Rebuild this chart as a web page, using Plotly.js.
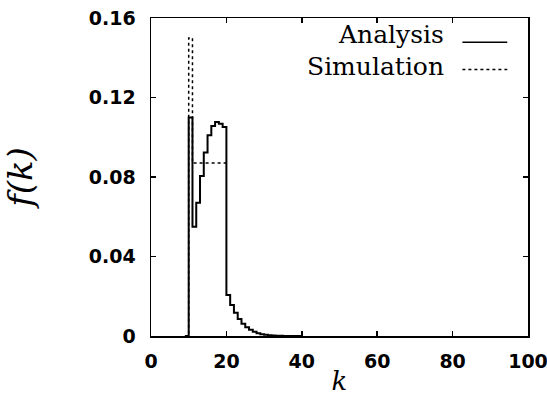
<!DOCTYPE html>
<html>
<head>
<meta charset="utf-8">
<script src="https://cdn.plot.ly/plotly-3.0.1.min.js"></script>
<style>
  html, body { margin: 0; padding: 0; background: #fff; }
  #chart { width: 547px; height: 400px; }
</style>
</head>
<body>
<div id="chart"></div>
<script>
// Degree k (step start positions)
const kAnalysis = [9, 10, 11, 12, 13, 14, 15, 16, 17, 18, 19, 20, 21, 22, 23, 24, 25, 26, 27, 28, 29, 30, 31, 32, 33, 34, 35, 36, 40];
// Analysis f(k)
const fAnalysis = [0, 0.110, 0.055, 0.067, 0.0805, 0.0923, 0.101, 0.1057, 0.1077, 0.1068, 0.1052,
                   0.0206, 0.0156, 0.0117, 0.0086, 0.0062, 0.0044, 0.0031, 0.0021, 0.0014, 0.0009,
                   0.0006, 0.0004, 0.00025, 0.00015, 0.0001, 0.00005, 0, 0];

const kSimulation = [9, 10, 11, 12, 13, 14, 15, 16, 17, 18, 19, 20];
// Simulation f(k)
const fSimulation = [0, 0.150, 0.087, 0.087, 0.087, 0.087, 0.087, 0.087, 0.087, 0.087, 0.087, 0.087];

const seriesNames = ["Analysis", "Simulation"];
const xTicks = [0, 20, 40, 60, 80, 100];
const yTicks = [0, 0.04, 0.08, 0.12, 0.16];
const yTickText = ["0", "0.04", "0.08", "0.12", "0.16"];

const traces = [
  {
    x: kSimulation, y: fSimulation, name: seriesNames[1],
    type: "scatter", mode: "lines",
    line: { shape: "hv", color: "#000", width: 1.5, dash: "dot" },
    showlegend: false
  },
  {
    x: kAnalysis, y: fAnalysis, name: seriesNames[0],
    type: "scatter", mode: "lines",
    line: { shape: "hv", color: "#000", width: 2 },
    showlegend: false
  }
];

const tickFont = { family: "DejaVu Sans", size: 19, color: "#000", weight: "bold" };

// legend sample geometry (paper coordinates)
const legX0 = 0.826, legX1 = 0.945, legTextX = 0.782;
const legRowsY = [0.924, 0.838];
const legTextY = [0.947, 0.848];

const layout = {
  width: 547, height: 400,
  margin: { l: 151, r: 19, t: 18, b: 64 },
  paper_bgcolor: "#fff", plot_bgcolor: "#fff",
  showlegend: false,
  xaxis: {
    range: [0, 100], tickvals: xTicks, ticktext: xTicks.map(String),
    ticks: "inside", ticklen: 5, tickwidth: 1.5, tickcolor: "#000",
    showline: true, linecolor: "#000", linewidth: 1.5, mirror: "allticks",
    showgrid: false, zeroline: false, ticklabeloverflow: "allow",
    tickfont: tickFont, ticklabelstandoff: 8,
    title: { text: "k", font: { family: "DejaVu Serif", size: 26, color: "#000", style: "italic" }, standoff: 0 }
  },
  yaxis: {
    range: [0, 0.16], tickvals: yTicks, ticktext: yTickText,
    ticks: "inside", ticklen: 5, tickwidth: 1.5, tickcolor: "#000",
    showline: true, linecolor: "#000", linewidth: 1.5, mirror: "allticks",
    showgrid: false, zeroline: false, ticklabeloverflow: "allow",
    tickfont: tickFont, ticklabelstandoff: 10,
    title: { text: "f(k)", font: { family: "DejaVu Serif", size: 34, color: "#000", style: "italic" }, standoff: 46 }
  },
  annotations: seriesNames.map((n, i) => ({
    xref: "paper", yref: "paper", x: legTextX, y: legTextY[i],
    xanchor: "right", yanchor: "middle", showarrow: false,
    text: n, font: { family: "DejaVu Serif", size: 25, color: "#000" }
  })),
  shapes: [
    { type: "line", xref: "paper", yref: "paper", x0: legX0, x1: legX1, y0: legRowsY[0], y1: legRowsY[0],
      line: { color: "#000", width: 1.5 } },
    { type: "line", xref: "paper", yref: "paper", x0: legX0, x1: legX1, y0: legRowsY[1], y1: legRowsY[1],
      line: { color: "#000", width: 1.5, dash: "dot" } }
  ]
};

Plotly.newPlot("chart", traces, layout, { displayModeBar: false, staticPlot: true });
</script>
</body>
</html>
